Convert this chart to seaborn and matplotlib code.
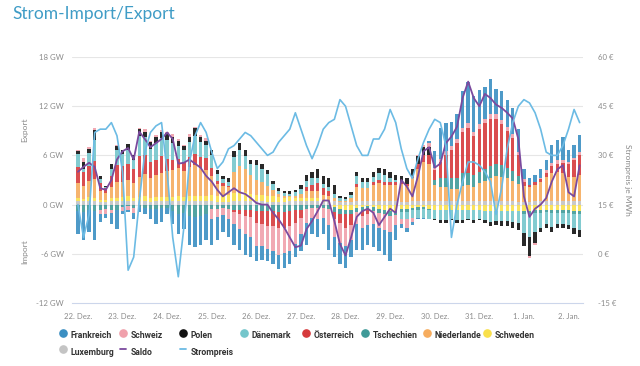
import numpy as np
import pandas as pd
import matplotlib
matplotlib.use("Agg")
import matplotlib.pyplot as plt
import seaborn as sns
from matplotlib.lines import Line2D

sns.set_theme(style="white")
plt.rcParams['font.family'] = ['Lato', 'DejaVu Sans']

# ---------------- data (3-hourly, hours since 22 Dec 00:00) ----------------
hours = list(range(0, 271, 3))
day_labels = ["22. Dez.", "23. Dez.", "24. Dez.", "25. Dez.", "26. Dez.", "27. Dez.",
              "28. Dez.", "29. Dez.", "30. Dez.", "31. Dez.", "1. Jan.", "2. Jan."]

luxemburg = [.4, .4, .5, .4, .3, .3, .4, .4,  .4, .5, .4, .4, .4, .3, .4, .4,
             .4, .4, .5, .4, .4, .4, .4, .5,  .4, .3, .3, .3, .4, .4, .5, .4,
             .4, .4, .3, .3, .3, .3, .4, .4,  .4, .4, .4, .4, .3, .4, .4, .3,
             .3, .3, .4, .4, .4, .4, .4, .4,  .4, .4, .3, .3, .4, .4, .4, .4,
             .4, .4, .5, .4, .4, .5, .4, .4,  .4, .4, .4, .5, .4, .4, .4, .3,
             .3, .3, .4, .4, .4, .4, .4, .4,  .4, .4, .4]
schweden = [.4, .3, .4, .4, .3, .3, .4, .4,  .5, .5, .4, .5, .6, .5, .5, .5,
            .5, .5, .5, .5, .6, .6, .6, .6,  .8, .8, .9, .9, 1.0, 1.0, 1.0, .9,
            .8, .8, .8, .7, .6, .5, .5, .4,  .4, .4, .4, .4, .3, .2, -.3, -.5,
            -.6, -.6, -.4, -.3, -.2, -.3, -.5, -.7,  -.8, -.8, -.5, -.5, -.4, -.3, -.3, -.5,
            -.7, -.7, -.7, -.6, -.7, -.7, -.6, -.7,  -.7, -.8, -.8, -.8, -.8, -.8, -.8, -.8,
            -.8, -.8, -.7, -.7, -.7, -.7, -.7, -.7,  -.7, -.8, -.8]
niederlande = [1.8, 1.6, 2.0, 2.3, 1.1, 0.8, 1.3, 2.0,  1.8, 2.0, 1.8, 2.5, 2.7, 2.5, 2.7, 2.9,
               3.2, 3.3, 3.5, 3.2, 3.6, 3.8, 3.5, 3.1,  2.3, 1.4, 1.1, 0.9, 2.6, 3.3, 2.8, 2.3,
               1.8, 1.5, 1.2, 0.8, 0.4, 0.3, 0.2, 0.3,  0.5, 0.8, 0.8, 0.8, 0.6, 0.5, 0.4, 0.2,
               0.2, 0.5, 1.8, 1.6, 1.6, 2.0, 2.2, 2.0,  2.0, 2.0, 2.2, 2.0, 2.8, 4.0, 4.8, 4.6,
               2.0, 1.8, 1.6, 1.5, 1.5, 1.8, 2.0, 1.8,  2.2, 2.5, 2.8, 3.0, 3.0, 2.8, 2.5, 2.2,
               2.0, 1.8, 2.0, 2.4, 3.0, 3.5, 3.6, 3.5,  3.0, 3.0, 3.2]
tschechien = [-.8, -.9, -.7, -.8, -.6, -.5, -.6, -.7,  -.3, -.2, -.4, -.3, -.4, -.5, -.5, -.4,
              -.4, -.8, -1.2, -1.0, -1.4, -1.5, -1.4, -1.2,  -.5, -.5, -.4, -.5, -.6, -.6, -.6, -.6,
              -.8, -.8, -.8, -.8, -.9, -.9, -.8, -.7,  -.6, -.5, -.4, -.4, -.4, -.5, -.6, -.6,
              -.6, -.5, -.5, -.5, -.4, -.5, -.5, -.5,  -.6, -.5, -.4, -.4, -.3, -.3, -.2, -.2,
              0.6, 1.0, 1.2, 1.3, 1.4, 1.5, 1.5, 1.4,  1.4, 1.5, 1.5, 1.5, 1.4, 1.3, 1.2, 1.0,
              -.3, -.4, -.3, -.3, -.2, -.3, -.3, -.3,  -.3, -.3, -.3]
oesterreich = [2.0, 1.7, 1.8, 2.2, 0.9, 0.6, 1.4, 2.0,  2.0, 2.0, 1.7, 2.5, 2.3, 1.9, 1.9, 2.1,
               1.5, 1.3, 1.1, 1.1, 1.2, 1.4, 1.3, 1.5,  1.0, 0.4, 0.3, 0.2, -0.3, -0.6, -0.8, -0.9,
               -1.5, -1.6, -1.8, -1.8, -2.0, -2.0, -1.8, -1.5,  -1.0, 0.5, 0.8, 1.0, 0.8, 0.6, -0.8, -1.2,
               -1.6, -1.4, 0.3, -0.6, -0.5, 0.3, 0.4, 0.4,  0.4, 0.3, 0.2, 0.2, 0.3, 0.5, 0.8, 1.0,
               1.2, 2.0, 2.8, 3.5, 4.2, 5.0, 5.5, 4.8,  5.2, 5.5, 5.8, 5.5, 5.0, 4.5, 4.0, 2.5,
               0.5, 0.3, 0.3, 0.3, 0.5, 0.8, 1.0, 1.2,  1.5, 2.0, 2.5]
daenemark = [1.6, 0.4, 1.6, 2.6, 0.5, 0.2, 0.9, 1.8,  1.5, 1.6, 1.2, 2.5, 2.2, 1.6, 2.0, 2.2,
             2.3, 2.0, 1.6, 1.4, 1.8, 2.2, 1.8, 1.6,  1.5, 0.8, 0.5, 0.5, 1.8, 2.0, 1.6, 1.3,
             1.8, 1.6, 1.4, 0.7, 0.4, 0.3, 0.2, 0.4,  0.6, 0.8, 0.8, 0.7, 0.5, 0.4, 0.5, 0.3,
             0.2, 0.4, 1.0, 0.8, 0.8, 0.7, 0.8, 0.8,  0.5, 0.3, -0.8, -0.9, -0.9, -1.0, -1.1, -1.1,
             -1.0, -1.2, -1.2, -1.1, -1.2, -1.2, -1.1, -1.2,  -1.0, -1.1, -1.3, -1.2, -1.2, -1.2, -1.3, -1.4,
             -2.4, -2.8, -2.4, -1.8, -1.5, -1.7, -1.4, -1.4,  -1.5, -1.8, -2.0]
polen = [0.3, 0.8, 0.5, 1.2, 0.4, 0.1, 0.5, 0.5,  0.5, 0.8, 0.5, 0.8, 0.7, 0.8, 0.8, 0.8,
         0.8, 0.8, 0.6, 0.5, 0.7, 0.9, 0.7, 0.5,  0.7, 0.5, 0.4, 0.4, 0.7, 0.8, 0.7, 0.6,
         0.7, 0.6, 0.5, 0.4, 0.3, 0.3, 0.3, 0.3,  0.5, 0.7, 0.8, 1.0, 1.0, 1.2, 1.1, 0.3,
         0.2, 0.3, 0.5, 0.5, 0.5, 0.6, 0.7, 0.7,  0.7, 0.6, 0.8, 0.7, 0.8, 1.0, 1.0, 1.0,
         -0.2, -0.3, -0.3, -0.2, -0.3, -0.3, -0.2, -0.3,  -0.2, -0.3, -0.5, -0.5, -0.6, -0.6, -0.7, -0.9,
         -1.5, -2.3, -1.3, -0.5, -0.5, -0.6, -0.4, -0.4,  -0.5, -0.7, -0.9]
schweiz = [0.2, 0.5, 0.2, 0.3, -0.5, -0.6, -0.4, 0.2,  -0.5, -0.4, -0.6, 0.2, 0.3, 0.2, 0.2, 0.2,
           0.2, 0.3, 0.2, 0.2, 0.3, 0.2, 0.2, 0.3,  -1.2, -1.0, -0.9, -1.2, -1.5, -1.8, -2.2, -2.4,
           -2.8, -2.7, -2.8, -3.0, -3.2, -3.0, -3.0, -2.6,  -2.0, -1.8, -1.2, -1.4, -1.2, -2.0, -2.2, -2.4,
           -2.3, -1.8, -1.5, -1.5, -1.4, -1.6, -1.8, -1.9,  -2.0, -1.2, -0.7, -1.0, -0.5, 0.2, 0.3, 0.5,
           0.3, 0.4, 0.4, 0.4, 0.5, 0.5, 0.5, 0.5,  0.6, 0.6, 0.6, 0.5, 0.5, 0.5, 0.5, 0.4,
           0.3, -0.2, -0.2, 0.2, 0.3, 0.4, 0.4, 0.4,  0.3, 0.3, 0.3]
frankreich = [-2.8, -3.4, -2.6, -3.5, -1.0, -0.5, -1.4, -2.3,  -0.4, -0.3, -0.8, -0.6, -0.8, -1.3, -1.9, -1.7,
              -0.8, -1.6, -2.4, -2.0, -3.5, -3.7, -3.5, -3.1,  -3.2, -2.8, -2.0, -2.3, -2.5, -2.5, -2.5, -2.5,
              -1.8, -1.6, -1.5, -1.7, -1.8, -1.8, -1.7, -1.6,  -2.1, -2.6, -2.0, -2.2, -2.0, -3.0, -2.5, -2.6,
              -2.6, -2.1, -3.1, -2.6, -2.4, -2.8, -2.9, -3.0,  -3.5, -1.8, -0.5, -0.6, -0.4, -0.2, -0.1, 0.3,
              2.0, 3.8, 3.5, 3.0, 3.1, 4.6, 5.1, 4.3,  4.2, 3.9, 4.2, 3.1, 3.5, 3.3, 3.2, 2.8,
              1.3, 0.8, 0.9, 1.0, 1.3, 2.2, 2.5, 2.8,  1.5, 1.6, 2.1]
saldo = [4.0, 4.6, 5.1, 4.6, 2.0, 1.8, 3.0, 5.5,  6.5, 6.9, 5.5, 8.9, 8.0, 7.0, 7.5, 8.0,
         8.8, 8.0, 5.0, 5.1, 5.5, 5.0, 4.5, 3.5,  2.8, 1.8, 1.0, 1.5, 2.0, 1.5, 1.3, 0.8,
         0.2, 0.0, 0.0, -1.0, -1.8, -2.8, -4.0, -5.2,  -5.0, -3.0, -2.0, -0.8, 0.5, 0.5, -2.0, -4.8,
         -6.2, -4.0, -1.5, -0.8, -0.5, -1.0, -2.5, -1.5,  -0.5, -1.0, 3.0, 2.2, 1.0, 3.5, 6.5, 7.0,
         4.5, 5.0, 7.5, 8.3, 9.5, 13.0, 15.0, 13.0,  12.0, 13.5, 13.0, 12.2, 11.8, 11.2, 10.5, 8.0,
         1.0, -1.5, -0.5, 0.0, 0.8, 2.8, 4.3, 4.8,  1.5, 1.0, 4.8]
strompreis = [15, 5, 12, 37, 38, 38, 40, 36,  25, -5, -1, 16, 31, 37, 39, 40,
              25, 5, -7, 8, 28, 36, 40, 37,  31, 26, 28, 32, 33, 35, 37, 36,
              34, 32, 30, 31, 34, 36, 38, 43,  38, 33, 29, 33, 38, 40, 41, 47,
              45, 39, 33, 30, 30, 35, 35, 38,  44, 40, 32, 26, 23, 29, 34, 38,
              41, 40, 33, 5, 15, 22, 28, 28,  27, 25, 22, 12, 20, 32, 40, 45,
              47, 46, 43, 38, 31, 30, 30, 33,  38, 44, 40]

countries = ["Frankreich", "Schweiz", "Polen", "Dänemark", "Österreich",
             "Tschechien", "Niederlande", "Schweden", "Luxemburg"]
colors = {"Frankreich": "#3b8fc2", "Schweiz": "#f0a0ab", "Polen": "#111111",
          "Dänemark": "#74c6cb", "Österreich": "#d63a3c", "Tschechien": "#3f9a98",
          "Niederlande": "#f6ac5e", "Schweden": "#f9e04b", "Luxemburg": "#c4c4c4"}
values = {"Frankreich": frankreich, "Schweiz": schweiz, "Polen": polen,
          "Dänemark": daenemark, "Österreich": oesterreich, "Tschechien": tschechien,
          "Niederlande": niederlande, "Schweden": schweden, "Luxemburg": luxemburg}

df = pd.DataFrame({"h": hours, **values, "Saldo": saldo, "Strompreis": strompreis})

# ---------------- figure ----------------
fig = plt.figure(figsize=(6.4, 3.66), dpi=100)
ax = fig.add_axes([72 / 640, 1 - 303 / 366, 511 / 640, 246 / 366])
ax2 = ax.twinx()

grid_c = "#e6e6e6"
for yv in [-6, 0, 6, 12, 18]:
    ax.axhline(yv, color=grid_c, lw=0.8, zorder=0)

pos_bottom = np.zeros(len(hours))
neg_bottom = np.zeros(len(hours))
for c in reversed(countries):  # stack from zero outward: Luxemburg ... Frankreich
    v = df[c].to_numpy(dtype=float)
    pos = np.where(v > 0, v, 0)
    neg = np.where(v < 0, v, 0)
    ax.bar(df["h"], pos, bottom=pos_bottom, width=1.8, color=colors[c], lw=0, alpha=0.9, zorder=2)
    ax.bar(df["h"], neg, bottom=neg_bottom, width=1.8, color=colors[c], lw=0, alpha=0.9, zorder=2)
    pos_bottom += pos
    neg_bottom += neg

sns.lineplot(data=df, x="h", y="Saldo", ax=ax, color="#7b4a9e", lw=1.3, zorder=4)
sns.lineplot(data=df, x="h", y="Strompreis", ax=ax2, color="#6cbbe4", lw=1.2, zorder=5)

ax.set_xlim(-3.2, 271.8)
ax.set_ylim(-12, 18)
ax2.set_ylim(-15, 60)

lab_c = "#8a8a8a"
fs = 5.6
ax.set_yticks([-12, -6, 0, 6, 12, 18])
ax.set_yticklabels(["-12 GW", "-6 GW", "0 GW", "6 GW", "12 GW", "18 GW"], fontsize=fs, color=lab_c)
ax2.set_yticks([-15, 0, 15, 30, 45, 60])
ax2.set_yticklabels(["-15 €", "0 €", "15 €", "30 €", "45 €", "60 €"], fontsize=fs, color=lab_c)
ax.set_xticks([24 * i for i in range(len(day_labels))])
ax.set_xticklabels(day_labels, fontsize=fs, color=lab_c)

ax.tick_params(axis="y", length=0, pad=6)
ax2.tick_params(axis="y", length=0, pad=11)
ax.tick_params(axis="x", length=3, width=0.6, color="#ccd6eb", pad=4)
ax2.tick_params(axis="x", length=0)

for a in (ax, ax2):
    for s in a.spines.values():
        s.set_visible(False)
ax.spines["bottom"].set_visible(True)
ax.spines["bottom"].set_color("#ccd6eb")
ax.spines["bottom"].set_linewidth(0.8)

ax.set_xlabel("")
ax.set_ylabel("")
ax2.set_ylabel("")
ax.grid(False)
ax2.grid(False)

# axis titles
fig.text(25 / 640, 1 - 130 / 366, "Export", rotation=90, ha="center", va="center", fontsize=6, color=lab_c)
fig.text(25 / 640, 1 - 252 / 366, "Import", rotation=90, ha="center", va="center", fontsize=6, color=lab_c)
fig.text(627 / 640, 1 - 180 / 366, "Strompreis je MWh", rotation=270, ha="center", va="center",
         fontsize=6, color=lab_c)

# title
fig.text(12 / 640, 1 - 14 / 366, "Strom-Import/Export", ha="left", va="center", fontsize=12.5,
         color="#3f9cc6")

# legend (manual, Highcharts style)
leg_font = ['Liberation Sans Narrow', 'Roboto', 'DejaVu Sans']
row1 = [("Frankreich", 62.7), ("Schweiz", 122.7), ("Polen", 183.3), ("Dänemark", 244),
        ("Österreich", 305.7), ("Tschechien", 365), ("Niederlande", 426.7), ("Schweden", 486.7)]
for name, xm in row1:
    fig.add_artist(Line2D([xm / 640], [1 - 332.5 / 366], marker="o", ms=5.2, color=colors[name],
                          transform=fig.transFigure, lw=0))
    fig.text((xm + 7.5) / 640, 1 - 336 / 366, name, ha="left", va="center", fontsize=6.2,
             color="#333333", fontweight="bold", family=leg_font)
fig.add_artist(Line2D([62.7 / 640], [1 - 349 / 366], marker="o", ms=5.2, color=colors["Luxemburg"],
                      transform=fig.transFigure, lw=0))
fig.text(70.2 / 640, 1 - 352.7 / 366, "Luxemburg", ha="left", va="center", fontsize=6.2,
         color="#333333", fontweight="bold", family=leg_font)
for name, xm, col in [("Saldo", 122.7, "#7b4a9e"), ("Strompreis", 183.3, "#6cbbe4")]:
    fig.add_artist(Line2D([(xm - 3) / 640, (xm + 3) / 640], [1 - 348.5 / 366] * 2, color=col, lw=1.3,
                          transform=fig.transFigure))
    fig.text((xm + 7.5) / 640, 1 - 352.7 / 366, name, ha="left", va="center", fontsize=6.2,
             color="#333333", fontweight="bold", family=leg_font)

fig.savefig("out.png", dpi=100)
